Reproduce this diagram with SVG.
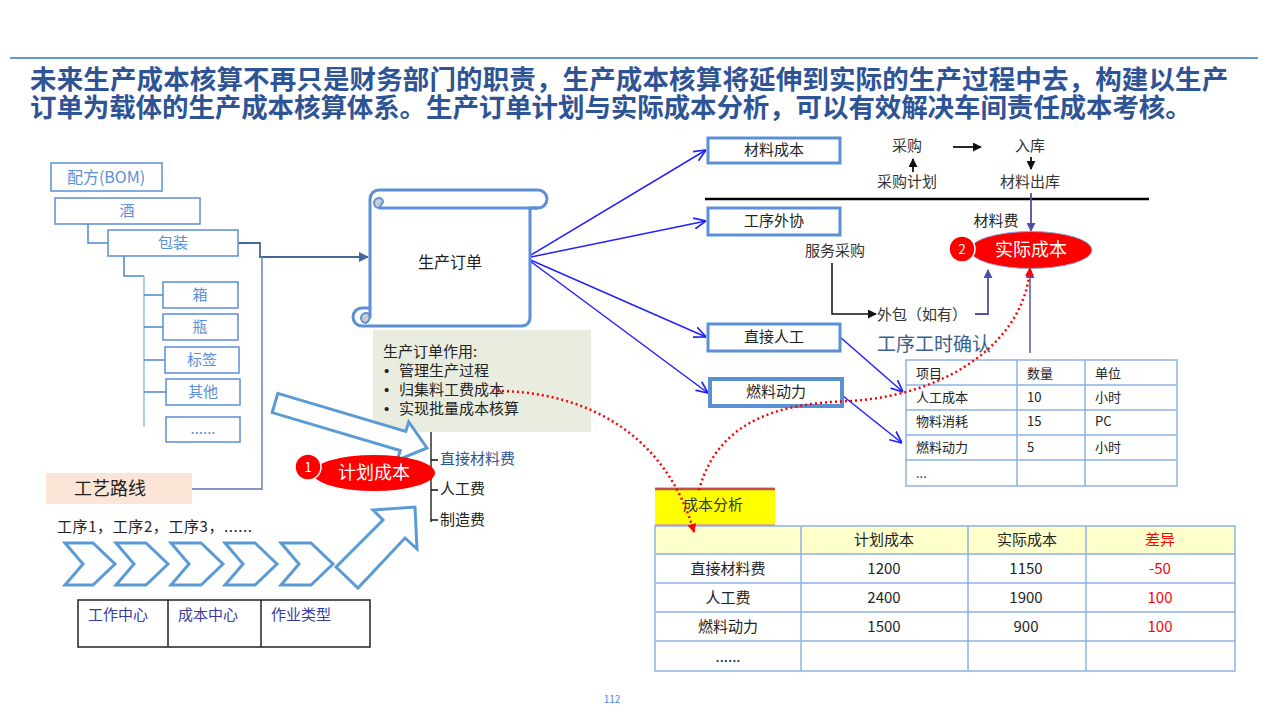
<svg xmlns="http://www.w3.org/2000/svg" width="1280" height="720" viewBox="0 0 1280 720">
<defs>
<style>
text{font-family:"Noto Sans CJK SC","Liberation Sans",sans-serif;fill:#222;}
.t15{font-size:15px;}
.bul{font-family:"Liberation Sans",sans-serif;font-size:15px;}
.bom{fill:#fff;stroke:#5B8FD6;stroke-width:1.5;}
.bomt{font-size:15px;fill:#5B8FD6;text-anchor:middle;}
.tree{fill:none;stroke:#4A86D0;stroke-width:1.5;}
.box{fill:#fff;stroke:#5B8FD6;stroke-width:3;}
.bxt{font-size:15px;text-anchor:middle;fill:#222;}
.blue{fill:none;stroke:#2222FF;stroke-width:1.5;marker-end:url(#mBlue);}
.dot{fill:none;stroke:#FF0000;stroke-width:2.5;stroke-dasharray:2 3;marker-end:url(#mRed);}
.purp{fill:none;stroke:#4F4FA8;stroke-width:1.8;}
.shape{fill:#fff;stroke:#5B9BD5;stroke-width:3;stroke-linejoin:miter;}
.grid{stroke:#8DB3E2;stroke-width:1.5;fill:none;}
.ct{font-size:13px;fill:#222;}
.at{font-size:15px;text-anchor:middle;fill:#222;}
.red{fill:#FF0000;}
.title{font-size:26.5px;font-weight:bold;fill:#2F5496;}
</style>
<marker id="mBlue" viewBox="0 0 10 10" refX="10" refY="5" markerWidth="12" markerHeight="12" orient="auto" markerUnits="userSpaceOnUse"><path d="M0,0.5 L10,5 L0,9.5" fill="none" stroke="#2222FF" stroke-width="1.4"/></marker>
<marker id="mRed" viewBox="0 0 10 10" refX="9" refY="5" markerWidth="9" markerHeight="9" orient="auto" markerUnits="userSpaceOnUse"><path d="M0,0 L10,5 L0,10 Z" fill="#FF0000"/></marker>
<marker id="mBlack" viewBox="0 0 10 10" refX="9" refY="5" markerWidth="9" markerHeight="9" orient="auto" markerUnits="userSpaceOnUse"><path d="M0,0 L10,5 L0,10 Z" fill="#111"/></marker>
<marker id="mPurp" viewBox="0 0 10 10" refX="9" refY="5" markerWidth="9" markerHeight="9" orient="auto" markerUnits="userSpaceOnUse"><path d="M0,0 L10,5 L0,10 Z" fill="#4F4FA8"/></marker>
<marker id="mSlate" viewBox="0 0 10 10" refX="9" refY="5" markerWidth="10" markerHeight="10" orient="auto" markerUnits="userSpaceOnUse"><path d="M0,0 L10,5 L0,10 Z" fill="#44689A"/></marker>
</defs>
<rect width="1280" height="720" fill="#fff"/>

<g id="header">
<line x1="10" y1="58" x2="1258" y2="58" stroke="#2E75B6" stroke-width="1.5"/>
<text class="title"><tspan x="30" y="89" letter-spacing="0.13">未来生产成本核算不再只是财务部门的职责，生产成本核算将延伸到实际的生产过程中去，构建以生产</tspan><tspan x="30" y="117" letter-spacing="-0.1">订单为载体的生产成本核算体系。生产订单计划与实际成本分析，可以有效解决车间责任成本考核。</tspan></text>
</g>

<g id="connectors">
<path class="tree" d="M88,224 V243 H108"/>
<path class="tree" d="M124,256 V276 H144"/>
<path class="tree" d="M144,276 V427" style="stroke:#9DBCE6"/>
<path class="tree" d="M144,295 H163 M144,327 H163 M144,360 H165 M144,392 H166"/>
<path d="M238,243 H260 V257 H368" fill="none" stroke="#44689A" stroke-width="1.8" marker-end="url(#mSlate)"/>
<path d="M262,257 V489 H191" fill="none" stroke="#7F9CC0" stroke-width="1.8"/>
<line class="blue" x1="526" y1="258" x2="706" y2="150"/>
<line class="blue" x1="526" y1="258" x2="706" y2="221"/>
<line class="blue" x1="526" y1="258" x2="706" y2="337"/>
<line class="blue" x1="526" y1="258" x2="708" y2="393"/>
<line class="blue" x1="840" y1="337" x2="903" y2="392"/>
<line class="blue" x1="843" y1="396" x2="902" y2="443"/>
<line x1="705" y1="199" x2="1149" y2="199" stroke="#000" stroke-width="2.5"/>
<line x1="953" y1="147" x2="981" y2="147" stroke="#111" stroke-width="1.8" marker-end="url(#mBlack)"/>
<line x1="913" y1="172" x2="913" y2="159" stroke="#111" stroke-width="1.8" marker-end="url(#mBlack)"/>
<line x1="1031" y1="157" x2="1031" y2="169" stroke="#111" stroke-width="1.8" marker-end="url(#mBlack)"/>
<line class="purp" x1="1031" y1="193" x2="1031" y2="231" marker-end="url(#mPurp)"/>
<path d="M832,263 V314 H876" fill="none" stroke="#111" stroke-width="1.5" marker-end="url(#mBlack)"/>
<path class="purp" d="M975,314 H988 V270" marker-end="url(#mPurp)"/>
<line x1="1030" y1="353" x2="1030" y2="270" stroke="#8080C0" stroke-width="2" marker-end="url(#mPurp)"/>
<path d="M431,432 V522 M431,460 H438 M431,490 H438 M431,520 H438" fill="none" stroke="#111" stroke-width="1.3"/>
</g>

<g id="bom">
<rect class="bom" x="51" y="163" width="111" height="28"/>
<text class="bomt" x="106" y="183" style="font-size:16px">配方(BOM)</text>
<rect class="bom" x="55" y="198" width="145" height="26"/>
<text class="bomt" x="127" y="216">酒</text>
<rect class="bom" x="108" y="230" width="130" height="26"/>
<text class="bomt" x="173" y="248">包装</text>
<rect class="bom" x="163" y="282" width="75" height="26"/>
<text class="bomt" x="200" y="300">箱</text>
<rect class="bom" x="163" y="314" width="75" height="26"/>
<text class="bomt" x="200" y="332">瓶</text>
<rect class="bom" x="165" y="347" width="74" height="26"/>
<text class="bomt" x="202" y="365">标签</text>
<rect class="bom" x="166" y="379" width="74" height="26"/>
<text class="bomt" x="203" y="397">其他</text>
<rect class="bom" x="166" y="417" width="74" height="25"/>
<text class="bomt" x="203" y="434">......</text>
</g>

<g id="routing">
<rect x="46" y="473" width="146" height="31" fill="#FBE5D6"/>
<text x="74" y="495" font-size="18">工艺路线</text>
<text x="57" y="532" class="t15" textLength="195" lengthAdjust="spacing">工序1，工序2，工序3，......</text>
<polygon class="shape" points="65,543 93,543 115,564 93,585 65,585 83,564"/>
<polygon class="shape" points="116,543 146,543 168,564 146,585 116,585 134,564"/>
<polygon class="shape" points="171,543 201,543 223,564 201,585 171,585 189,564"/>
<polygon class="shape" points="225,543 255,543 277,564 255,585 225,585 243,564"/>
<polygon class="shape" points="281,543 311,543 333,564 311,585 281,585 299,564"/>
<polygon class="shape" points="336,567 383,520 373,510 415,507 417,549 405,538 358,588"/>
</g>

<g id="centers">
<rect x="78" y="600" width="292" height="47" fill="none" stroke="#222" stroke-width="1.5"/>
<line x1="168" y1="600" x2="168" y2="647" stroke="#222" stroke-width="1.5"/>
<line x1="261" y1="600" x2="261" y2="647" stroke="#222" stroke-width="1.5"/>
<text x="88" y="620" class="t15" style="fill:#3B3BA0">工作中心</text>
<text x="178" y="620" class="t15" style="fill:#3B3BA0">成本中心</text>
<text x="271" y="620" class="t15" style="fill:#3B3BA0">作业类型</text>
</g>

<g id="order">
<path d="M379,190 H538 A9,9 0 0 1 538,208 H530 V318 A8,8 0 0 1 522,326 H362 A9,9 0 0 1 362,308 H370 V199 A9,9 0 0 1 379,190 Z" fill="#fff" stroke="#5B8FD6" stroke-width="3" stroke-linejoin="round"/>
<path d="M379,208 H538" stroke="#5B8FD6" stroke-width="3" fill="none"/>
<path d="M379,208 A5,5 0 0 1 379,198 A4,4 0 0 1 383,202 Z" fill="#CCCCCC" stroke="#5B8FD6" stroke-width="2"/>
<path d="M370,317 A4,4 0 0 0 366,313 A5,5 0 0 0 366,323 A8,8 0 0 0 370,317 Z" fill="#CCCCCC" stroke="#5B8FD6" stroke-width="2"/>
<path d="M370,308 V318" stroke="#5B8FD6" stroke-width="3"/>
<text x="450" y="268" font-size="16" text-anchor="middle">生产订单</text>
</g>

<g id="order-role">
<rect x="373" y="330" width="218" height="102" fill="#E9EDDF"/>
<text x="383" y="357" class="t15">生产订单作用:</text>
<text x="384" y="376" class="bul">•</text><text x="399" y="376" class="t15">管理生产过程</text>
<text x="384" y="395" class="bul">•</text><text x="399" y="395" class="t15">归集料工费成本</text>
<text x="384" y="414" class="bul">•</text><text x="399" y="414" class="t15">实现批量成本核算</text>
</g>

<g id="arrow-in">
<polygon class="shape" points="277.8,393.4 405.8,431.4 408.7,421.8 427,448 397.3,460.2 400.2,450.6 272.2,412.6"/>
</g>

<g id="plan-cost">
<ellipse cx="374" cy="473" rx="61" ry="18" fill="#FF0000"/>
<circle cx="308" cy="467" r="13" fill="#FF0000" stroke="#fff" stroke-width="1.5"/>
<text x="308" y="472" font-size="13" text-anchor="middle" style="fill:#fff">1</text>
<text x="374" y="479" font-size="18" text-anchor="middle" style="fill:#fff">计划成本</text>
<text x="440" y="464" class="t15" style="fill:#2F5496">直接材料费</text>
<text x="440" y="494" class="t15">人工费</text>
<text x="440" y="525" class="t15">制造费</text>
</g>

<g id="mat">
<rect class="box" x="708" y="138" width="132" height="25"/>
<text class="bxt" x="774" y="155">材料成本</text>
</g>
<g id="outsource">
<rect class="box" x="708" y="208" width="132" height="27"/>
<text class="bxt" x="774" y="226">工序外协</text>
</g>
<g id="labor">
<rect class="box" x="708" y="324" width="132" height="27"/>
<text class="bxt" x="774" y="342">直接人工</text>
</g>
<g id="fuel">
<rect class="box" x="710" y="379" width="132" height="27" style="stroke-width:4"/>
<text class="bxt" x="776" y="397">燃料动力</text>
</g>

<g id="purchase">
<text class="at" x="907" y="151" style="fill:#333">采购</text>
<text class="at" x="1030" y="151" style="fill:#333">入库</text>
<text class="at" x="907" y="187" style="fill:#333">采购计划</text>
<text class="at" x="1030" y="187" style="fill:#333">材料出库</text>
<text class="at" x="996" y="226" style="fill:#222">材料费</text>
<text class="at" x="835" y="256" style="fill:#333">服务采购</text>
<text x="877" y="320" class="t15" style="fill:#333">外包（如有）</text>
</g>

<g id="actual-cost">
<ellipse cx="1031" cy="250" rx="61" ry="18.5" fill="#FF0000" stroke="#8FA6D9" stroke-width="1"/>
<circle cx="962" cy="249" r="13" fill="#FF0000" stroke="#fff" stroke-width="1.5"/>
<text x="962" y="254" font-size="13" text-anchor="middle" style="fill:#fff">2</text>
<text x="1031" y="256" font-size="18" text-anchor="middle" style="fill:#fff">实际成本</text>
</g>

<g id="hours">
<text x="877" y="351" font-size="19" style="fill:#3A5F8F">工序工时确认</text>
<rect class="grid" x="906" y="360" width="271" height="126"/>
<path class="grid" d="M1017,360 V486 M1085,360 V486 M906,385 H1177 M906,410 H1177 M906,435 H1177 M906,460 H1177"/>
<text class="ct" x="916" y="378">项目</text><text class="ct" x="1027" y="378">数量</text><text class="ct" x="1095" y="378">单位</text>
<text class="ct" x="916" y="402">人工成本</text><text class="ct" x="1027" y="402">10</text><text class="ct" x="1095" y="402">小时</text>
<text class="ct" x="916" y="426">物料消耗</text><text class="ct" x="1027" y="426">15</text><text class="ct" x="1095" y="426">PC</text>
<text class="ct" x="916" y="452">燃料动力</text><text class="ct" x="1027" y="452">5</text><text class="ct" x="1095" y="452">小时</text>
<text class="ct" x="916" y="478">...</text>
</g>

<g id="analysis">
<rect x="655" y="487" width="120" height="39" fill="#FFFF00"/>
<line x1="655" y1="489" x2="775" y2="489" stroke="#C0504D" stroke-width="2.5"/>
<line x1="655" y1="525" x2="775" y2="525" stroke="#D99694" stroke-width="1.5"/>
<text x="683" y="510" class="t15" style="fill:#333">成本分析</text>
<rect x="655" y="526" width="580" height="28" fill="#FFFFCC"/>
<rect class="grid" x="655" y="526" width="580" height="145"/>
<path class="grid" d="M801,526 V671 M968,526 V671 M1086,526 V671 M655,554 H1235 M655,583 H1235 M655,612 H1235 M655,641 H1235"/>
<text class="at" x="884" y="545">计划成本</text><text class="at" x="1027" y="545">实际成本</text><text class="at red" x="1160" y="545">差异</text>
<text class="at" x="728" y="574">直接材料费</text><text class="at" x="884" y="574">1200</text><text class="at" x="1026" y="574">1150</text><text class="at red" x="1160" y="574">-50</text>
<text class="at" x="728" y="603">人工费</text><text class="at" x="884" y="603">2400</text><text class="at" x="1026" y="603">1900</text><text class="at red" x="1160" y="603">100</text>
<text class="at" x="728" y="632">燃料动力</text><text class="at" x="884" y="632">1500</text><text class="at" x="1026" y="632">900</text><text class="at red" x="1160" y="632">100</text>
<text class="at" x="728" y="662">......</text>
</g>

<g id="dotted">
<path class="dot" d="M492,391 C580,390 665,430 694,532"/>
<path class="dot" d="M699,490 C718,420 780,403 850,401 C950,395 1025,340 1030,268"/>
</g>

<text x="612" y="703" font-size="10" text-anchor="middle" style="fill:#4A86E8">112</text>
</svg>
